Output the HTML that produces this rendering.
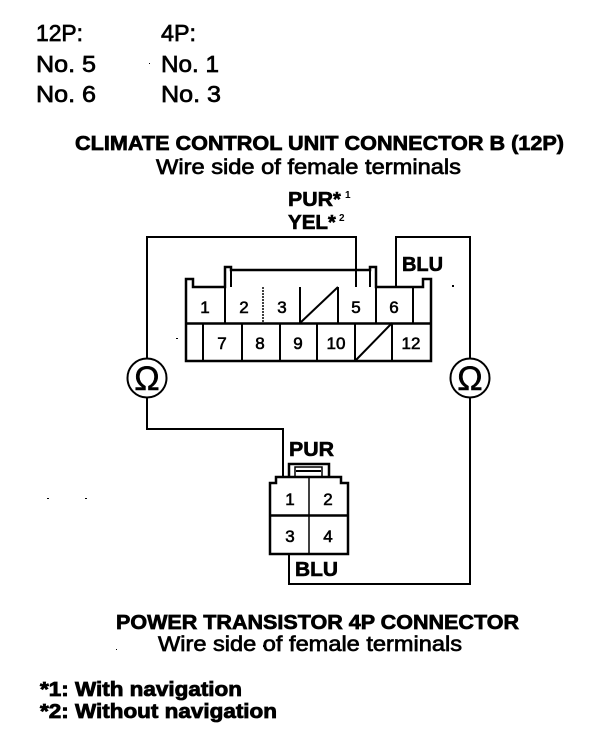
<!DOCTYPE html>
<html><head><meta charset="utf-8"><style>
html,body{margin:0;padding:0;background:#fff}
svg{display:block}
text{font-family:"Liberation Sans",sans-serif;fill:#000}
.h{font-size:23px;stroke:#000;stroke-width:.7}
.b{font-weight:bold;font-size:20px;stroke:#000;stroke-width:.7}
.s{font-size:21px;stroke:#000;stroke-width:.7}
.n{font-size:17px;text-anchor:middle;stroke:#000;stroke-width:.6}
.l{font-weight:bold;font-size:20px;stroke:#000;stroke-width:.6}
.f{font-weight:bold;font-size:20px;stroke:#000;stroke-width:.8}
.sup{font-weight:bold;font-size:10px}
</style></head><body>
<svg width="608" height="744" viewBox="0 0 608 744" xmlns="http://www.w3.org/2000/svg">
<text class="h" x="36" y="41" textLength="47" lengthAdjust="spacingAndGlyphs">12P:</text><text class="h" x="161" y="41" textLength="35" lengthAdjust="spacingAndGlyphs">4P:</text>
<text class="h" x="36" y="72" textLength="60" lengthAdjust="spacingAndGlyphs">No. 5</text><text class="h" x="161" y="72" textLength="58" lengthAdjust="spacingAndGlyphs">No. 1</text>
<text class="h" x="36" y="102" textLength="60" lengthAdjust="spacingAndGlyphs">No. 6</text><text class="h" x="161" y="102" textLength="60" lengthAdjust="spacingAndGlyphs">No. 3</text>

<text class="b" x="75" y="150" textLength="489" lengthAdjust="spacingAndGlyphs">CLIMATE CONTROL UNIT CONNECTOR B (12P)</text>
<text class="s" x="156" y="174" textLength="305" lengthAdjust="spacingAndGlyphs">Wire side of female terminals</text>

<text class="l" x="288" y="206" textLength="45" lengthAdjust="spacingAndGlyphs">PUR</text><text class="l" x="333" y="206" font-size="14">*</text><text class="sup" x="345" y="198">1</text>
<text class="l" x="288" y="229" textLength="40" lengthAdjust="spacingAndGlyphs">YEL</text><text class="l" x="328" y="229" font-size="14">*</text><text class="sup" x="339" y="221">2</text>
<text class="l" x="402" y="271" textLength="41" lengthAdjust="spacingAndGlyphs">BLU</text>
<text class="l" x="289" y="456" textLength="45" lengthAdjust="spacingAndGlyphs">PUR</text>
<text class="l" x="295" y="576" textLength="43" lengthAdjust="spacingAndGlyphs">BLU</text>

<g fill="none" stroke="#000" stroke-width="2">
<path d="M147 358V237H356V287"/>
<path d="M396 287V237H470V358"/>
<path d="M147 398V429H283V477"/>
<path d="M470 398V584H289V554"/>
</g>

<g fill="none" stroke="#000" stroke-width="2">
<path d="M186 361V279H193V287H225V267H231V270H370V267H376V287H423V279H431V361Z" stroke-width="2.500"/>
<path d="M231 270V287M370 270V287"/>
<path d="M186 323.500H431" stroke-width="2.500"/>
<path d="M225 287V323M300 287V323M338 287V323M376 287V323M413 287V323"/>
<path d="M263 287V323" stroke-dasharray="2 1" stroke-width="1.500"/>
<path d="M203 323V361M242 323V361M280 323V361M317 323V361M355 323V361M392 323V361"/>
<path d="M300 323L338 287M355 361L392 323"/>
</g>
<g>
<text class="n" x="205" y="313">1</text><text class="n" x="244" y="313">2</text><text class="n" x="282" y="313">3</text>
<text class="n" x="356" y="313">5</text><text class="n" x="394" y="313">6</text>
<text class="n" x="222" y="349">7</text><text class="n" x="260" y="349">8</text><text class="n" x="298" y="349">9</text>
<text class="n" x="336" y="349">10</text><text class="n" x="411" y="349">12</text>
</g>

<circle cx="147" cy="378" r="19.500" fill="none" stroke="#000" stroke-width="2"/>
<circle cx="470" cy="378" r="19.500" fill="none" stroke="#000" stroke-width="2"/>
<text x="147" y="390" font-size="34" text-anchor="middle" stroke="#000" stroke-width=".5">Ω</text>
<text x="470" y="390" font-size="34" text-anchor="middle" stroke="#000" stroke-width=".5">Ω</text>

<g fill="none" stroke="#000" stroke-width="2.500">
<path d="M270 554V483H276V477H341V483H348V554Z"/>
<path d="M270 515.500H348"/>
<path d="M289 477V464H329V477"/>
<path d="M295 477V467H322V477" stroke-width="1.500"/>
<path d="M296 471H321" stroke-width="2"/>
<path d="M309 477V554" stroke-width="1.500"/>
</g>
<text class="n" x="290" y="505">1</text><text class="n" x="328" y="505">2</text>
<text class="n" x="290" y="542">3</text><text class="n" x="328" y="542">4</text>

<text class="b" x="116" y="629" textLength="403" lengthAdjust="spacingAndGlyphs">POWER TRANSISTOR 4P CONNECTOR</text>
<text class="s" x="158" y="651" textLength="304" lengthAdjust="spacingAndGlyphs">Wire side of female terminals</text>
<text class="f" x="40" y="696" textLength="202" lengthAdjust="spacingAndGlyphs">*1: With navigation</text>
<text class="f" x="40" y="718" textLength="237" lengthAdjust="spacingAndGlyphs">*2: Without navigation</text>

<g fill="#000"><rect x="452" y="285" width="2" height="2"/><rect x="176" y="338" width="2" height="1"/><rect x="85" y="498" width="2" height="1"/><rect x="47" y="498" width="2" height="1"/><rect x="263" y="645" width="2" height="2"/><rect x="149" y="63" width="1" height="1"/><rect x="116" y="649" width="1" height="1"/></g>
</svg>
</body></html>
